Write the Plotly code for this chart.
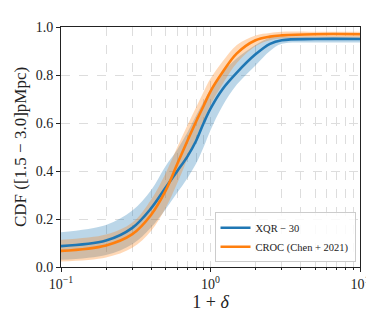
import plotly.graph_objects as go

x_vals = [0.1, 0.2, 0.3, 0.4, 0.5, 0.6, 0.7, 0.8, 0.9, 1.0, 1.2, 1.5, 2.0, 2.5, 3.0, 5.0, 10.0]

xqr_median = [0.087, 0.11, 0.163, 0.244, 0.33, 0.40, 0.46, 0.525, 0.60, 0.66, 0.74, 0.81, 0.886, 0.93, 0.945, 0.95, 0.95]
xqr_upper = [0.145, 0.175, 0.235, 0.32, 0.42, 0.49, 0.56, 0.63, 0.69, 0.74, 0.81, 0.87, 0.925, 0.955, 0.96, 0.96, 0.96]
xqr_lower = [0.03, 0.05, 0.095, 0.165, 0.24, 0.31, 0.37, 0.43, 0.50, 0.57, 0.67, 0.76, 0.84, 0.90, 0.93, 0.935, 0.935]

croc_median = [0.067, 0.09, 0.137, 0.217, 0.317, 0.43, 0.525, 0.605, 0.672, 0.732, 0.81, 0.89, 0.945, 0.96, 0.965, 0.97, 0.97]
croc_upper = [0.114, 0.135, 0.185, 0.28, 0.39, 0.50, 0.59, 0.665, 0.73, 0.785, 0.855, 0.925, 0.965, 0.975, 0.98, 0.98, 0.98]
croc_lower = [0.023, 0.04, 0.08, 0.15, 0.245, 0.35, 0.45, 0.54, 0.61, 0.675, 0.76, 0.85, 0.92, 0.945, 0.952, 0.955, 0.955]

series_names = ["XQR − 30", "CROC (Chen + 2021)"]
x_tick_vals = [0.1, 1, 10]
x_tick_text = ["10<sup>−1</sup>", "10<sup>0</sup>", "10<sup>1</sup>"]
x_minor_vals = [0.2, 0.3, 0.4, 0.5, 0.6, 0.7, 0.8, 0.9, 2, 3, 4, 5, 6, 7, 8, 9]
y_tick_vals = [0.0, 0.2, 0.4, 0.6, 0.8, 1.0]
y_tick_text = ["0.0", "0.2", "0.4", "0.6", "0.8", "1.0"]

BLUE = "#1f77b4"
ORANGE = "#ff7f0e"
FONT = "Liberation Serif"

fig = go.Figure()

def band(upper, lower, fillcolor):
    fig.add_trace(go.Scatter(x=x_vals, y=upper, mode="lines", line=dict(width=0, shape="spline"),
                             showlegend=False, hoverinfo="skip"))
    fig.add_trace(go.Scatter(x=x_vals, y=lower, mode="lines", line=dict(width=0, shape="spline"),
                             fill="tonexty", fillcolor=fillcolor, showlegend=False, hoverinfo="skip"))

band(xqr_upper, xqr_lower, "rgba(31,119,180,0.3)")
band(croc_upper, croc_lower, "rgba(255,127,14,0.3)")

fig.add_trace(go.Scatter(x=x_vals, y=xqr_median, mode="lines", name=series_names[0],
                         line=dict(color=BLUE, width=2.6, shape="spline")))
fig.add_trace(go.Scatter(x=x_vals, y=croc_median, mode="lines", name=series_names[1],
                         line=dict(color=ORANGE, width=2.6, shape="spline")))

fig.update_layout(
    width=374, height=312,
    margin=dict(l=53, r=19, t=15, b=48),
    paper_bgcolor="white", plot_bgcolor="white",
    font=dict(family=FONT, color="#222", size=13),
    legend=dict(x=0.985, y=0.02, xanchor="right", yanchor="bottom", traceorder="normal",
                bgcolor="rgba(255,255,255,0.85)", bordercolor="#cccccc", borderwidth=1,
                font=dict(family=FONT, size=10.5), tracegroupgap=0, itemwidth=30),
    xaxis=dict(type="log", range=[-1, 1], tickmode="array", tickvals=x_tick_vals, ticktext=x_tick_text,
               ticks="outside", ticklen=4, tickcolor="#222", showline=True, linecolor="#222",
               linewidth=1, mirror=True, showgrid=True, gridcolor="#dddddd", griddash="dash",
               gridwidth=0.8, zeroline=False, tickfont=dict(size=14),
               minor=dict(tickmode="array", tickvals=x_minor_vals, ticks="outside", ticklen=2,
                          tickcolor="#222", showgrid=True,
                          gridcolor="#dddddd", griddash="dash", gridwidth=0.8),
               title=dict(text="1 + <i>δ</i>", font=dict(size=18), standoff=4)),
    yaxis=dict(range=[0, 1], tickmode="array", tickvals=y_tick_vals, ticktext=y_tick_text,
               ticks="outside", ticklen=4, tickcolor="#222", showline=True, linecolor="#222",
               linewidth=1, mirror=True, showgrid=True, gridcolor="#dddddd", griddash="dash",
               gridwidth=0.8, zeroline=False, tickfont=dict(size=14),
               title=dict(text="CDF ([1.5 − 3.0]pMpc)", font=dict(size=17), standoff=4)),
)

fig.write_html("out.html")
